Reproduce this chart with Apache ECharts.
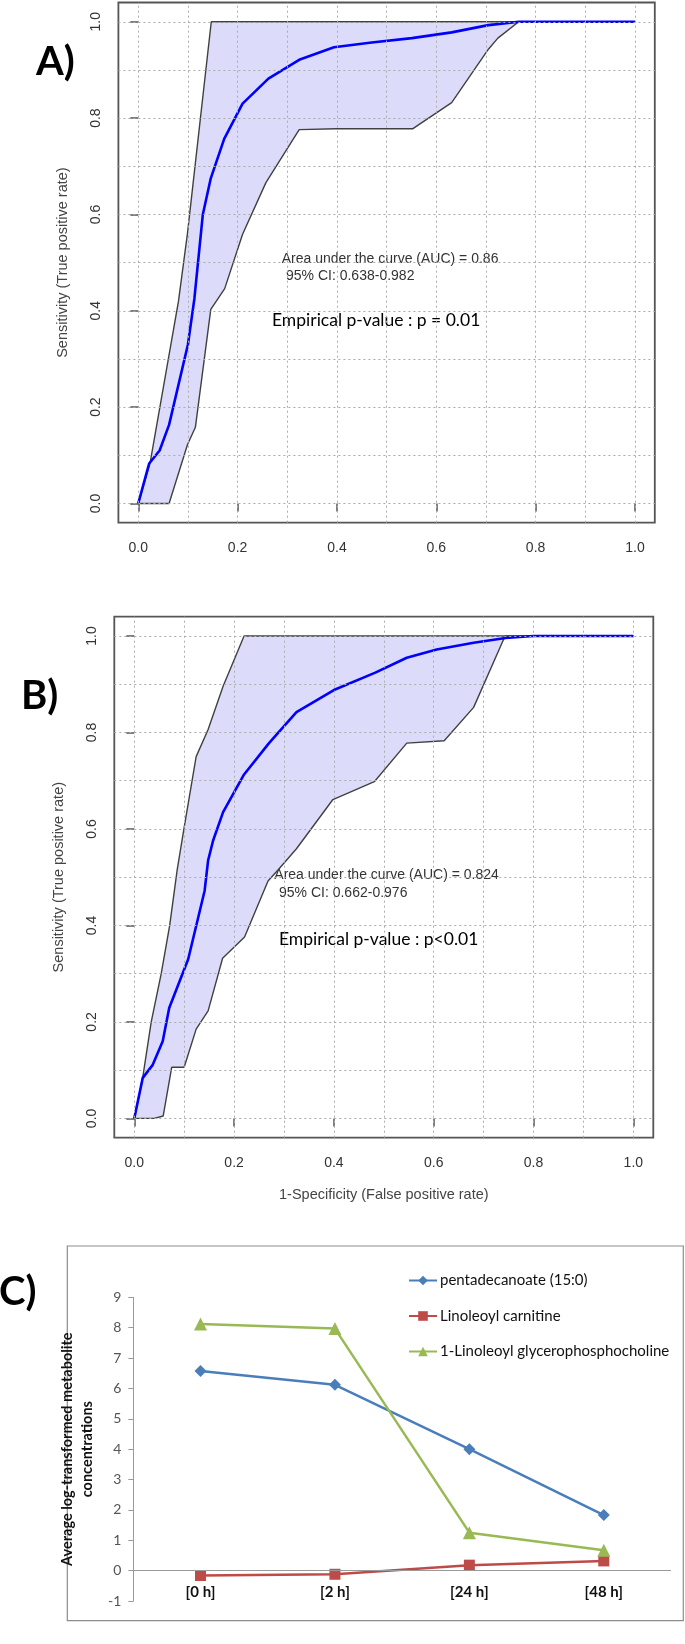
<!DOCTYPE html>
<html>
<head>
<meta charset="utf-8">
<script src="https://cdn.jsdelivr.net/npm/echarts@6/dist/echarts.min.js"></script>
<style>
html,body{margin:0;padding:0;background:#fff;}
#chart{width:685px;height:1644px;}
</style>
</head>
<body>
<div id="chart"></div>
<script>
// ---------- DATA ----------
// Panel A ROC
const aCurve = [[0,0],[0.022,0.083],[0.043,0.11],[0.062,0.163],[0.1,0.33],[0.113,0.425],[0.13,0.6],[0.146,0.675],[0.173,0.757],[0.21,0.83],[0.262,0.882],[0.324,0.921],[0.394,0.947],[0.47,0.957],[0.551,0.966],[0.631,0.978],[0.705,0.993],[0.767,1.0],[1,1]];
const aUpper = [[0,0],[0.024,0.085],[0.081,0.42],[0.099,0.56],[0.147,1.0],[1,1]];
const aLower = [[0,0],[0.062,0],[0.099,0.122],[0.115,0.158],[0.146,0.403],[0.174,0.446],[0.21,0.559],[0.257,0.666],[0.324,0.776],[0.398,0.778],[0.553,0.778],[0.631,0.832],[0.705,0.943],[0.724,0.966],[0.766,1.0],[1,1]];
// Panel B ROC
const bCurve = [[0,0],[0.017,0.084],[0.037,0.111],[0.057,0.16],[0.07,0.229],[0.108,0.33],[0.141,0.472],[0.148,0.535],[0.158,0.576],[0.178,0.635],[0.22,0.713],[0.27,0.778],[0.325,0.842],[0.4,0.888],[0.483,0.924],[0.546,0.955],[0.606,0.972],[0.68,0.986],[0.744,0.996],[0.8,1.0],[1,1]];
const bUpper = [[0,0],[0.017,0.085],[0.034,0.2],[0.054,0.3],[0.071,0.4],[0.086,0.515],[0.099,0.597],[0.124,0.75],[0.148,0.806],[0.178,0.896],[0.22,1.0],[1,1]];
const bLower = [[0,0],[0.04,0],[0.058,0.005],[0.075,0.106],[0.1,0.106],[0.124,0.185],[0.148,0.223],[0.177,0.332],[0.221,0.376],[0.268,0.492],[0.288,0.515],[0.325,0.559],[0.398,0.661],[0.481,0.698],[0.546,0.778],[0.621,0.783],[0.68,0.852],[0.743,1.0],[1,1]];
const rocTicks = [0,0.2,0.4,0.6,0.8,1.0];
const rocGrid = [0,0.1,0.2,0.3,0.4,0.5,0.6,0.7,0.8,0.9,1.0];

// Panel C
const cCategories = ['[0 h]','[2 h]','[24 h]','[48 h]'];
const cPenta = [6.57, 6.12, 4.0, 1.83];
const cCarn = [-0.16, -0.12, 0.18, 0.32];
const cGPC = [8.12, 7.97, 1.25, 0.67];
const cSeriesNames = ['pentadecanoate (15:0)','Linoleoyl carnitine','1-Linoleoyl glycerophosphocholine'];

// ---------- CHART ----------
const RF = '"Liberation Sans", Arial, sans-serif';
const CF = 'Lato, "Open Sans", sans-serif';
const chart = echarts.init(document.getElementById('chart'), null, {renderer:'canvas'});

function rocX(gi, withName){
  return {
    gridIndex: gi, type:'value', min:-0.04, max:1.04,
    axisLine:{show:false},
    axisTick:{show:true, length:8, customValues: rocTicks, lineStyle:{color:'#555', width:1.5}},
    axisLabel:{customValues: rocTicks, formatter:v=>v.toFixed(1), margin:18, fontSize:14, color:'#333', fontFamily:RF},
    splitLine:{show:false},
    name: withName ? '1-Specificity (False positive rate)' : '',
    nameLocation:'middle', nameGap:50,
    nameTextStyle:{fontSize:14.5, color:'#444', fontFamily:RF}
  };
}
function rocY(gi){
  return {
    gridIndex: gi, type:'value', min:-0.04, max:1.04,
    axisLine:{show:false},
    axisTick:{show:true, length:8, customValues: rocTicks, lineStyle:{color:'#555', width:1.5}},
    axisLabel:{customValues: rocTicks, formatter:v=>v.toFixed(1), rotate:90, margin:15, fontSize:14, color:'#333', fontFamily:RF},
    splitLine:{show:false},
    name:'Sensitivity (True positive rate)',
    nameLocation:'middle', nameGap:48,
    nameTextStyle:{fontSize:14.5, color:'#444', fontFamily:RF}
  };
}
function rocSeries(gi, curve, upper, lower){
  return [
    {
      type:'custom', xAxisIndex:gi, yAxisIndex:gi, z:1, silent:true,
      data:[[0,0]],
      renderItem:(params, api)=>{
        const pts = upper.map(p=>api.coord(p)).concat(lower.slice().reverse().map(p=>api.coord(p)));
        return {type:'polygon', shape:{points:pts}, style:{fill:'#DCDCFA', stroke:null}};
      }
    },
    {
      type:'line', xAxisIndex:gi, yAxisIndex:gi, z:2, data:[], silent:true,
      markLine:{
        silent:true, symbol:['none','none'], animation:false,
        label:{show:false},
        lineStyle:{type:[2,3], color:'#ababab', width:1},
        data: rocGrid.map(v=>({xAxis:v})).concat(rocGrid.map(v=>({yAxis:v})))
      }
    },
    {type:'line', xAxisIndex:gi, yAxisIndex:gi, z:3, data:upper, symbol:'none', lineStyle:{color:'#404040', width:1.4}},
    {type:'line', xAxisIndex:gi, yAxisIndex:gi, z:3, data:lower, symbol:'none', lineStyle:{color:'#404040', width:1.4}},
    {type:'line', xAxisIndex:gi, yAxisIndex:gi, z:4, data:curve, symbol:'none', lineStyle:{color:'#0000FF', width:2.6}}
  ];
}

const cColors = ['#4A7EBB','#BE4B48','#98B954'];
const cSymbols = ['diamond','rect','triangle'];
const cSizes = [12, 11, 13];
const cData = [cPenta, cCarn, cGPC];

const option = {
  animation:false,
  backgroundColor:'#fff',
  grid:[
    {left:118.4, top:2.5, width:536.4, height:520.2, show:true, borderColor:'#555', borderWidth:1.8, backgroundColor:'transparent', outerBoundsMode:'none'},
    {left:114.3, top:616.7, width:539, height:521, show:true, borderColor:'#555', borderWidth:1.8, backgroundColor:'transparent', outerBoundsMode:'none'},
    {left:133.3, top:1297.3, width:537.7, height:303.7, show:false, outerBoundsMode:'none'}
  ],
  xAxis:[
    rocX(0,false), rocX(1,true),
    {gridIndex:2, type:'category', data:cCategories, boundaryGap:true,
     axisLine:{show:false, onZero:false},
     axisTick:{show:false},
     axisLabel:{inside:true, margin:1, fontSize:15, fontWeight:'bold', color:'#111', fontFamily:CF},
     splitLine:{show:false}}
  ],
  yAxis:[
    rocY(0), rocY(1),
    {gridIndex:2, type:'value', min:-1, max:9, interval:1,
     axisLine:{show:true, lineStyle:{color:'#9a9a9a', width:1}},
     axisTick:{show:true, length:5, lineStyle:{color:'#9a9a9a'}},
     axisLabel:{fontSize:14, color:'#555', fontFamily:CF, margin:12},
     splitLine:{show:false},
     name:'Average log-transformed metabolite\nconcentrations',
     nameLocation:'middle', nameGap:24,
     nameTextStyle:{fontSize:14.5, fontWeight:'bold', color:'#111', fontFamily:CF, lineHeight:20, align:'center'}}
  ],
  legend:{
    orient:'vertical', left:403, top:1268, itemWidth:28, itemHeight:12, itemGap:20.5,
    textStyle:{fontSize:15, color:'#111', fontFamily:CF, padding:[0,0,0,-2]},
    data: cSeriesNames
  },
  series: [
    ...rocSeries(0, aCurve, aUpper, aLower),
    ...rocSeries(1, bCurve, bUpper, bLower),
    {
      type:'line', xAxisIndex:2, yAxisIndex:2, data:[], silent:true, z:1,
      markLine:{silent:true, symbol:['none','none'], animation:false, label:{show:false},
        lineStyle:{type:'solid', color:'#9a9a9a', width:1},
        data:[{yAxis:0}]}
    },
    ...cData.map((d,i)=>({
      name:cSeriesNames[i], type:'line', xAxisIndex:2, yAxisIndex:2, z:3,
      data:d, symbol:cSymbols[i], symbolSize:cSizes[i], showAllSymbol:true,
      itemStyle:{color:cColors[i]}, lineStyle:{color:cColors[i], width:2.5}
    }))
  ],
  graphic:[
    {type:'text', left:36, top:42, style:{text:'A)', font:'bold 40px '+CF, fill:'#000', verticalAlign:'middle'}},
    {type:'text', left:21, top:676, style:{text:'B)', font:'bold 40px '+CF, fill:'#000', verticalAlign:'middle'}},
    {type:'text', left:-1, top:1272, style:{text:'C)', font:'bold 40px '+CF, fill:'#000', verticalAlign:'middle'}},
    {type:'text', x:281.7, y:259.3, style:{text:'Area under the curve (AUC) = 0.86', font:'14px '+RF, fill:'#333', verticalAlign:'middle'}},
    {type:'text', x:286, y:276.5, style:{text:'95% CI: 0.638-0.982', font:'14px '+RF, fill:'#333', verticalAlign:'middle'}},
    {type:'text', x:272, y:320, style:{text:'Empirical p-value : p = 0.01', font:'17.5px '+CF, fill:'#000', verticalAlign:'middle'}},
    {type:'text', x:274.3, y:875, style:{text:'Area under the curve (AUC) = 0.824', font:'14px '+RF, fill:'#333', verticalAlign:'middle'}},
    {type:'text', x:279, y:892.7, style:{text:'95% CI: 0.662-0.976', font:'14px '+RF, fill:'#333', verticalAlign:'middle'}},
    {type:'text', x:279, y:939, style:{text:'Empirical p-value : p<0.01', font:'17.5px '+CF, fill:'#000', verticalAlign:'middle'}},
    {type:'rect', shape:{x:67.3, y:1246, width:616, height:374.7}, style:{fill:null, stroke:'#8c8c8c', lineWidth:1.2}, silent:true, z:-1}
  ]
};
chart.setOption(option);
</script>
</body>
</html>
